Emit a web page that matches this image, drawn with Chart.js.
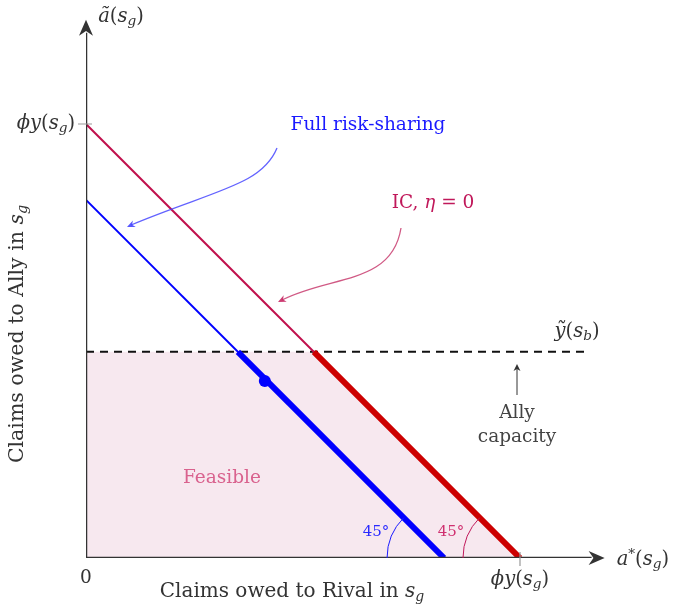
<!DOCTYPE html>
<html>
<head>
<meta charset="utf-8">
<script src="https://cdn.jsdelivr.net/npm/chart.js@4"></script>
<style>
  html, body { margin: 0; padding: 0; background: #fff; }
  canvas { display: block; }
</style>
</head>
<body>
<canvas id="chart" width="679" height="605"></canvas>
<script>
// values in units where phi*y(s_g) = 10
const phiY = 10;
const allyCap = 4.75;         // y~(s_b)
const fullRiskShare = 8.25;   // intercept of full risk-sharing line
const dotPoint = [4.12, 4.08];
const axisEnd = [11.95, 12.4];

const icLine = [[0, phiY], [phiY, 0]];
const icThick = [[phiY - allyCap, allyCap], [phiY, 0]];
const frsLine = [[0, fullRiskShare], [fullRiskShare, 0]];
const frsThick = [[fullRiskShare - allyCap, allyCap], [fullRiskShare, 0]];
const capLine = [[0, allyCap], [11.5, allyCap]];
const feasible = [[0, 0], [0, allyCap], [phiY - allyCap, allyCap], [phiY, 0]];

const pts = (arr) => arr.map((p) => ({ x: p[0], y: p[1] }));

const serif = '"DejaVu Serif", "Liberation Serif", serif';
const FS = 18.5;

// draw text runs: [text, italic, script]  script: 1 = sub, 2 = sup
const runFont = (r, size) => (r[1] ? 'italic ' : '') + (r[2] ? size * 0.7 : size) + 'px ' + serif;
const drawRuns = (ctx, runs, x, y, size, color, align) => {
  let w = 0;
  runs.forEach((r) => {
    ctx.font = runFont(r, size);
    w += ctx.measureText(r[0]).width;
  });
  let cx = x;
  if (align === 'center') cx = x - w / 2;
  if (align === 'right') cx = x - w;
  ctx.fillStyle = color;
  ctx.textBaseline = 'middle';
  ctx.textAlign = 'left';
  runs.forEach((r) => {
    ctx.font = runFont(r, size);
    let dy = 0;
    if (r[2] === 1) dy = size * 0.25;
    if (r[2] === 2) dy = -size * 0.3;
    ctx.fillText(r[0], cx, y + dy);
    cx += ctx.measureText(r[0]).width;
  });
};

const phiYsg = [['\u03D5y', true], ['(', false], ['s', true], ['g', true, 1], [')', false]];

const arrowHead = (ctx, x, y, ang, len, wid, color) => {
  ctx.save();
  ctx.translate(x, y);
  ctx.rotate(ang);
  ctx.fillStyle = color;
  ctx.beginPath();
  ctx.moveTo(0, 0);
  ctx.lineTo(-len, -wid);
  ctx.lineTo(-len * 0.7, 0);
  ctx.lineTo(-len, wid);
  ctx.closePath();
  ctx.fill();
  ctx.restore();
};

const annotations = {
  id: 'annotations',
  afterDatasetsDraw(chart) {
    const ctx = chart.ctx;
    const xs = chart.scales.x, ys = chart.scales.y;
    const X = (v) => xs.getPixelForValue(v);
    const Y = (v) => ys.getPixelForValue(v);
    ctx.save();

    // axis arrowheads
    arrowHead(ctx, X(axisEnd[0]), Y(0), 0, 16, 7, '#333');
    arrowHead(ctx, X(0), Y(axisEnd[1]), -Math.PI / 2, 16, 7, '#333');

    // ticks
    ctx.strokeStyle = '#999';
    ctx.lineWidth = 1.2;
    ctx.beginPath();
    ctx.moveTo(X(0) - 8, Y(phiY)); ctx.lineTo(X(0) + 6, Y(phiY));
    ctx.moveTo(X(phiY), Y(0) - 6); ctx.lineTo(X(phiY), Y(0) + 8);
    ctx.stroke();

    // axis labels
    drawRuns(ctx, phiYsg, X(0) - 11, Y(phiY), 19.5, '#333', 'right');
    drawRuns(ctx, phiYsg, X(phiY), Y(0) + 22, 19.5, '#333', 'center');
    drawRuns(ctx, [['0', false]], X(0), Y(0) + 20, FS, '#333', 'center');
    drawRuns(ctx, [['a', true], ['*', false, 2], ['(', false], ['s', true], ['g', true, 1], [')', false]], X(axisEnd[0]) + 12, Y(0) + 2, 19.5, '#333', 'left');
    drawRuns(ctx, [['\u00E3', true], ['(', false], ['s', true], ['g', true, 1], [')', false]], X(0) + 35, 17, 19.5, '#333', 'center');
    drawRuns(ctx, [['Claims owed to Rival in ', false], ['s', true], ['g', true, 1]], 292, 592, 20, '#333', 'center');
    ctx.save();
    ctx.translate(18, 334);
    ctx.rotate(-Math.PI / 2);
    drawRuns(ctx, [['Claims owed to Ally in ', false], ['s', true], ['g', true, 1]], 0, 0, 20.5, '#333', 'center');
    ctx.restore();

    // capacity label
    drawRuns(ctx, [['\u1EF9', true], ['(', false], ['s', true], ['b', true, 1], [')', false]], 577, Y(allyCap) - 20, 19.5, '#333', 'center');
    ctx.strokeStyle = '#333';
    ctx.lineWidth = 1;
    ctx.beginPath();
    ctx.moveTo(517, 395); ctx.lineTo(517, 368);
    ctx.stroke();
    arrowHead(ctx, 517, 364, -Math.PI / 2, 7, 3.5, '#333');
    drawRuns(ctx, [['Ally', false]], 517, 413, FS, '#444', 'center');
    drawRuns(ctx, [['capacity', false]], 517, 437, FS, '#444', 'center');

    // Feasible
    drawRuns(ctx, [['Feasible', false]], 222, 478, FS, '#d9628e', 'center');

    // Full risk-sharing label with curved arrow
    drawRuns(ctx, [['Full risk-sharing', false]], 368, 125, FS, '#1a1aff', 'center');
    ctx.strokeStyle = 'rgba(70,70,255,0.85)';
    ctx.lineWidth = 1.3;
    ctx.beginPath();
    ctx.moveTo(277, 148);
    ctx.bezierCurveTo(262, 185, 215, 190, 131, 225);
    ctx.stroke();
    arrowHead(ctx, 127, 227, Math.PI - 0.42, 8, 3.5, 'rgba(70,70,255,0.9)');

    // IC label with curved arrow
    drawRuns(ctx, [['IC, ', false], ['\u03B7', true], [' = 0', false]], 433, 203, FS, '#c0185a', 'center');
    ctx.strokeStyle = 'rgba(200,60,110,0.85)';
    ctx.lineWidth = 1.3;
    ctx.beginPath();
    ctx.moveTo(401, 228);
    ctx.bezierCurveTo(392, 285, 330, 275, 282, 300);
    ctx.stroke();
    arrowHead(ctx, 278, 302, Math.PI - 0.45, 8, 3.5, 'rgba(200,40,100,0.9)');

    // 45 degree arcs
    ctx.lineWidth = 1;
    ctx.strokeStyle = '#1a1aff';
    ctx.beginPath();
    ctx.arc(X(fullRiskShare), Y(0), 57, Math.PI, Math.PI * 1.25);
    ctx.stroke();
    ctx.strokeStyle = '#c0185a';
    ctx.beginPath();
    ctx.arc(X(phiY), Y(0), 57, Math.PI, Math.PI * 1.25);
    ctx.stroke();
    drawRuns(ctx, [['45\u00B0', false]], 376, 532, 15, '#2a2aff', 'center');
    drawRuns(ctx, [['45\u00B0', false]], 451, 532, 15, '#d03070', 'center');

    ctx.restore();
  }
};

new Chart(document.getElementById('chart'), {
  type: 'scatter',
  data: {
    datasets: [
      { data: pts(feasible), showLine: true, fill: 'origin', backgroundColor: 'rgba(246,228,236,0.85)', borderWidth: 0, pointRadius: 0, order: 10 },
      { data: pts(capLine), showLine: true, borderColor: '#111', borderWidth: 2, borderDash: [8, 6], pointRadius: 0, order: 9 },
      { data: pts(icLine), showLine: true, borderColor: '#c0104c', borderWidth: 2, pointRadius: 0, order: 8 },
      { data: pts(frsLine), showLine: true, borderColor: '#0000ff', borderWidth: 2, pointRadius: 0, order: 8 },
      { data: pts(icThick), showLine: true, borderColor: '#cc0000', borderWidth: 6, borderCapStyle: 'butt', pointRadius: 0, order: 7 },
      { data: pts(frsThick), showLine: true, borderColor: '#0000ff', borderWidth: 6, borderCapStyle: 'butt', pointRadius: 0, order: 7 },
      { data: pts([[0, 0], [axisEnd[0] - 0.3, 0]]), showLine: true, borderColor: '#333', borderWidth: 2.5, pointRadius: 0, order: 6 },
      { data: pts([[0, 0], [0, axisEnd[1] - 0.3]]), showLine: true, borderColor: '#333', borderWidth: 2.5, pointRadius: 0, order: 6 },
      { data: pts([dotPoint]), pointRadius: 6, pointBackgroundColor: '#0000ff', pointBorderWidth: 0, order: 5 }
    ]
  },
  options: {
    responsive: false,
    animation: false,
    layout: { padding: { left: 86, right: 50.5, top: 15.5, bottom: 47 } },
    plugins: { legend: { display: false }, tooltip: { enabled: false } },
    scales: {
      x: { type: 'linear', min: 0, max: 12.5, display: false },
      y: { type: 'linear', min: 0, max: 12.5, display: false }
    }
  },
  plugins: [annotations]
});
</script>
</body>
</html>
